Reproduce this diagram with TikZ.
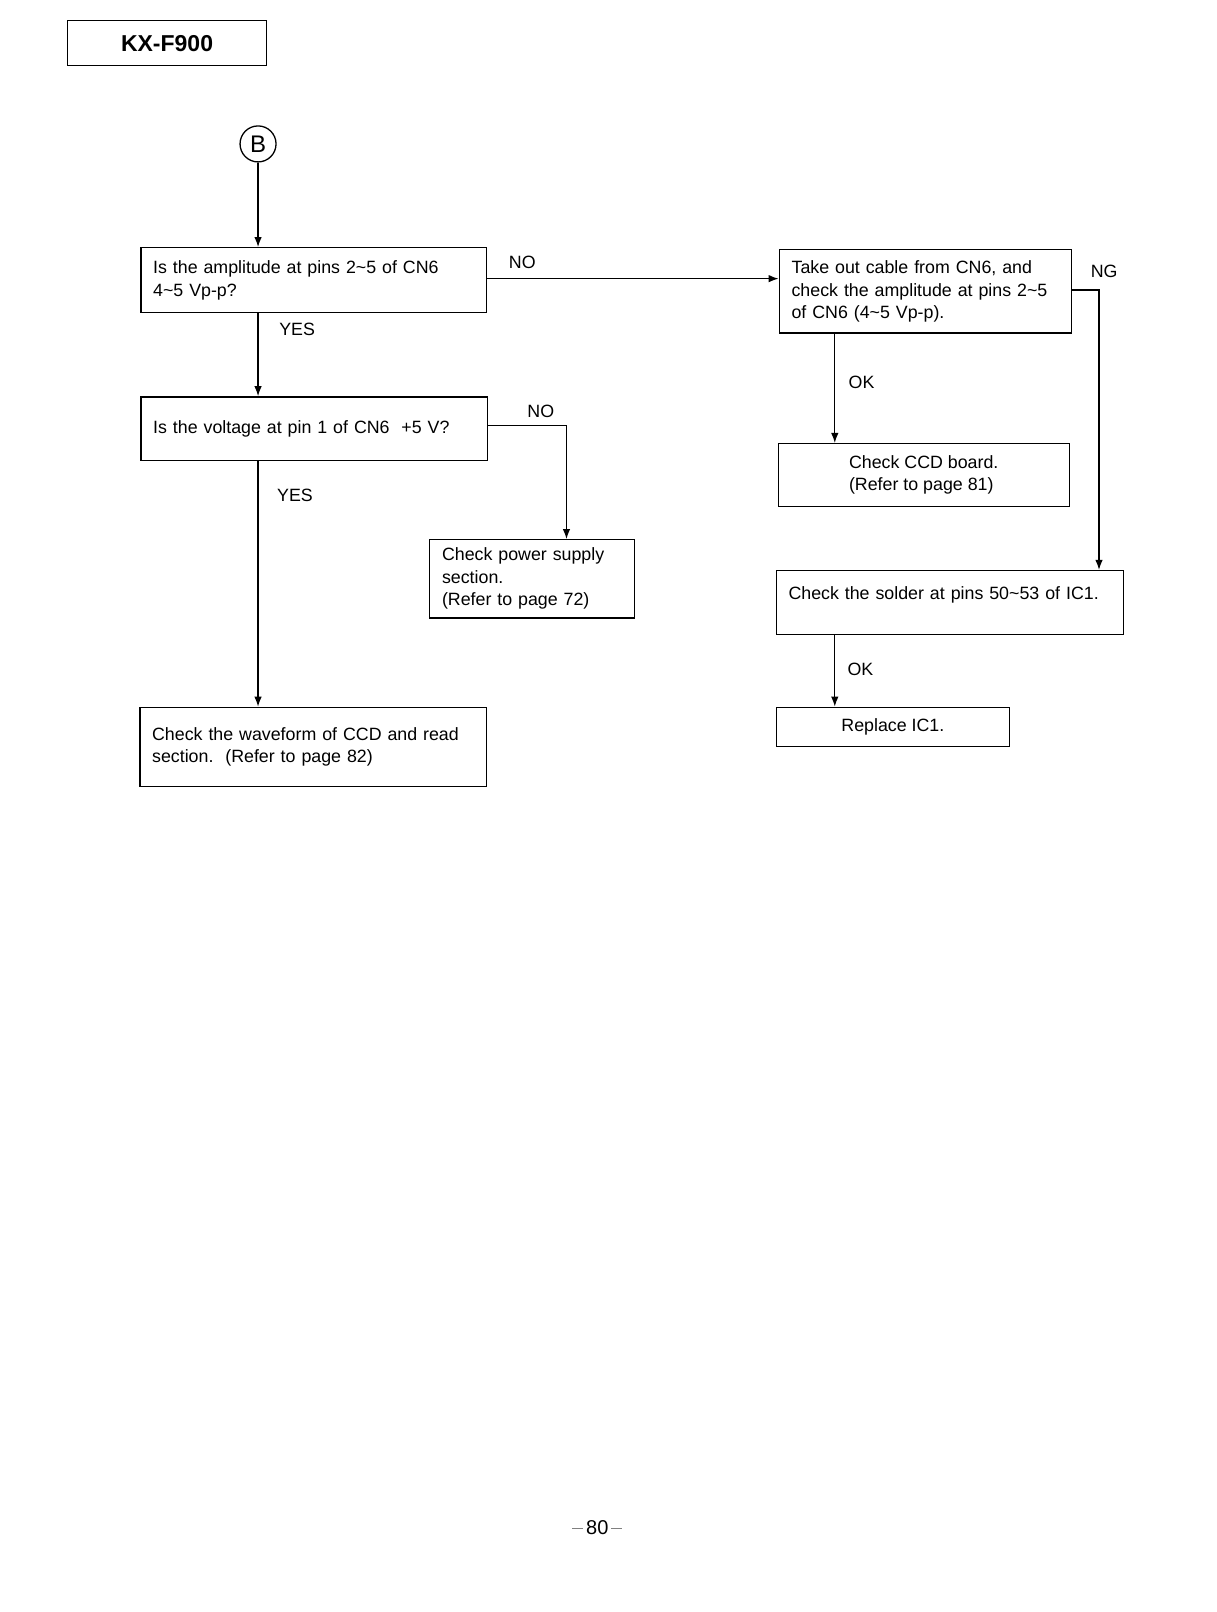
\documentclass[tikz,border=0pt]{standalone}
\usepackage{fontspec}
\setmainfont{Liberation Sans}
\usetikzlibrary{arrows.meta}
\begin{document}
\begin{tikzpicture}[x=1.0279pt,y=-1.0279pt]
\tikzset{
  box/.style={draw, line width=1.4pt, inner xsep=12.3pt, inner ysep=0pt, align=left, font=\fontsize{17.8}{22.5}\selectfont},
  lbl/.style={font=\fontsize{17.8}{22}\selectfont, inner sep=0pt},
  arr/.style={line width=1.2pt, -{Latex[length=10pt,width=7.5pt]}}
}
\useasboundingbox (0,0) rectangle (1183,1568);
% title
\node[draw, line width=1.3pt, minimum width=198.4pt, minimum height=45.2pt, inner sep=0pt,
      font=\fontsize{23}{26}\selectfont\bfseries] (title) at (162.5,42) {KX-F900};
% connector start
\node[draw, circle, line width=1.3pt, minimum size=36pt, inner sep=0pt,
      font=\fontsize{24}{26}\selectfont] (B) at (251,140) {B};
% boxes
\node[box, text width=320.8pt, minimum height=64.8pt] (b1) at (305,272.5)
  {Is the amplitude at pins 2\textasciitilde5 of CN6\\4\textasciitilde5 Vp-p?};
\node[box, text width=321.8pt, minimum height=63.7pt] (b2) at (305.5,417)
  {Is the voltage at pin 1 of CN6\ \ +5 V?};
\node[box, text width=180pt, minimum height=78.1pt] (b3) at (517.5,563)
  {Check power supply\\section.\\(Refer to page 72)};
\node[box, text width=321.8pt, minimum height=79.1pt] (b4) at (304.5,726.5)
  {Check the waveform of CCD and read\\section.\ \ (Refer to page 82)};
\node[box, text width=267.3pt, minimum height=83.3pt] (b5) at (900,283.5)
  {Take out cable from CN6, and\\check the amplitude at pins 2\textasciitilde5\\of CN6 (4\textasciitilde5 Vp-p).};
\node[box, minimum width=290.9pt, minimum height=62.7pt] (b6) at (898.5,462)
  {Check CCD board.\\(Refer to page 81)};
\node[box, text width=322.8pt, minimum height=63.7pt] (b7) at (924,586)
  {Check the solder at pins 50\textasciitilde53 of IC1.\\[-3pt] \mbox{}};
\node[box, align=center, minimum width=233.3pt, minimum height=39.1pt] (b8) at (868.5,707)
  {Replace IC1.};
% labels
\node[lbl] (yes1) at (289,320) {YES};
\node[lbl] (yes2) at (287,482) {YES};
\node[lbl] (no1) at (508,255) {NO};
\node[lbl] (no2) at (526,400) {NO};
\node[lbl] (ng) at (1074,264) {NG};
\node[lbl] (ok1) at (838,372) {OK};
\node[lbl] (ok2) at (837,651) {OK};
\node[font=\fontsize{20}{22}\selectfont, inner sep=0pt] (pg) at (581,1486)
  {\textcolor{gray}{\rule[0.3em]{11pt}{0.7pt}}\hspace{3pt}80\hspace{3pt}\textcolor{gray}{\rule[0.3em]{11pt}{0.7pt}}};
% helper coordinates
\coordinate (c23) at (551,0);
\coordinate (c57) at (1069,0);
\coordinate (c56) at (812,0);
% connectors
\draw[arr] (B) -- (b1.north -| B);
\draw[arr] (b1.south -| B) -- (b2.north -| B);
\draw[arr] (b2.south -| B) -- (b4.north -| B);
\draw[arr] ([yshift=1.5pt]b1.east) -- ([yshift=1.5pt]b1.east -| b5.west);
\draw[arr] ([yshift=3pt]b2.east) -| (b3.north -| c23);
\draw[arr] ([yshift=1.5pt]b5.east) -| (b7.north -| c57);
\draw[arr] (b5.south -| c56) -- (b6.north -| c56);
\draw[arr] (b7.south -| c56) -- (b8.north -| c56);
\end{tikzpicture}
\end{document}
